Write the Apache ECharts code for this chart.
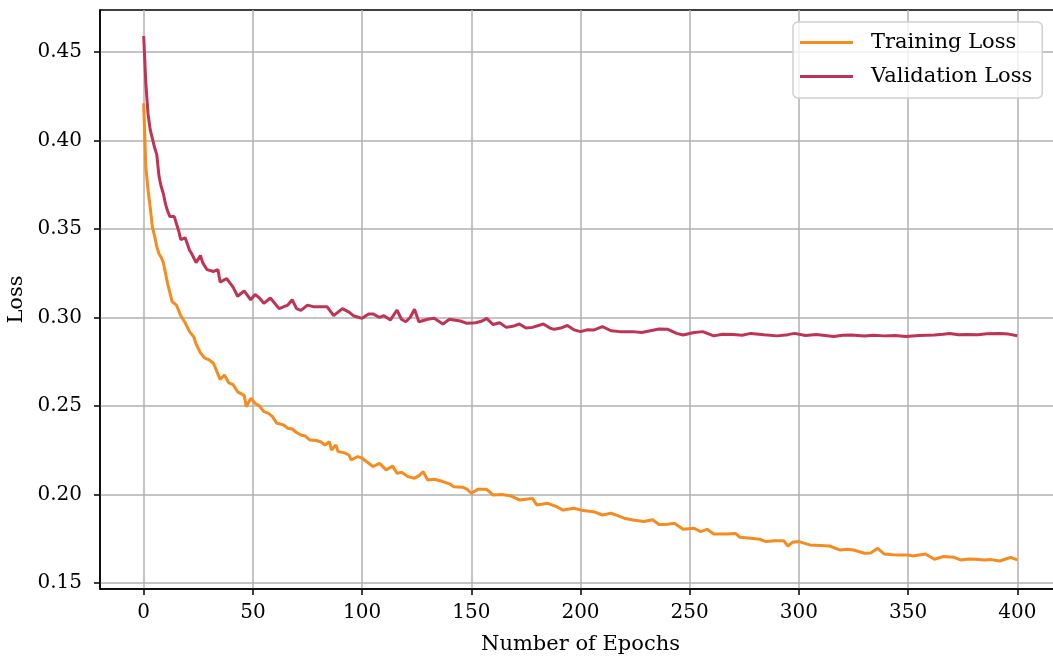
<!DOCTYPE html>
<html>
<head>
<meta charset="utf-8">
<script src="https://cdn.jsdelivr.net/npm/echarts@6/dist/echarts.min.js"></script>
<style>
  html, body { margin: 0; padding: 0; background: #fff; }
  #chart { width: 1053px; height: 660px; }
</style>
</head>
<body>
<div id="chart"></div>
<script>
// tick labels
const xTicks = [0, 50, 100, 150, 200, 250, 300, 350, 400];
const yTicks = [0.15, 0.20, 0.25, 0.30, 0.35, 0.40, 0.45];

// training loss
const trainEpochs = [0, 1, 2, 3, 4, 5, 6, 7, 8, 9, 10, 11, 12, 13, 15, 16, 17, 19, 21, 23,
  24, 26, 28, 30, 32, 34, 35, 37, 39, 41, 43, 46, 47, 49, 51, 53, 55, 57, 59, 61,
  64, 66, 68, 70, 72, 74, 76, 79, 81, 83, 85, 86, 88, 89, 92, 94, 95, 98, 100, 102,
  105, 108, 111, 114, 116, 118, 121, 124, 126, 128, 130, 133, 137, 140, 142, 146, 148, 150, 153, 157,
  160, 164, 168, 172, 176, 178, 180, 185, 189, 192, 197, 201, 206, 210, 214, 217, 220, 224, 229, 233,
  236, 240, 243, 247, 252, 255, 258, 261, 267, 271, 273, 278, 282, 285, 289, 293, 295, 297, 300, 305,
  310, 314, 319, 322, 325, 330, 333, 336, 339, 343, 346, 350, 352, 358, 362, 366, 371, 374, 378, 381,
  385, 388, 392, 395, 397, 400];
const trainLoss = [0.421, 0.385, 0.372, 0.362, 0.351, 0.346, 0.340, 0.336, 0.334, 0.331, 0.325, 0.319, 0.314, 0.309, 0.307, 0.304, 0.301, 0.297, 0.292, 0.289,
  0.285, 0.280, 0.277, 0.276, 0.274, 0.268, 0.265, 0.2675, 0.263, 0.262, 0.258, 0.256, 0.2496, 0.2543, 0.2515, 0.250, 0.2468, 0.246, 0.244, 0.2402,
  0.2393, 0.2374, 0.237, 0.235, 0.2336, 0.233, 0.2308, 0.2305, 0.2298, 0.228, 0.2298, 0.2251, 0.228, 0.2242, 0.2235, 0.2223, 0.2195, 0.2214, 0.2205, 0.2186,
  0.2158, 0.2176, 0.2139, 0.216, 0.212, 0.2125, 0.2101, 0.2092, 0.2105, 0.2129, 0.2082, 0.2086, 0.2073, 0.206, 0.2044, 0.2041, 0.203, 0.2007, 0.2029, 0.2029,
  0.1997, 0.2, 0.1992, 0.1969, 0.1975, 0.1978, 0.1941, 0.195, 0.1931, 0.1912, 0.1922, 0.1909, 0.1903, 0.1884, 0.1894, 0.188, 0.1866, 0.1856, 0.1847, 0.1857,
  0.183, 0.1832, 0.1837, 0.1803, 0.1809, 0.179, 0.1803, 0.1777, 0.1777, 0.178, 0.1758, 0.1753, 0.1747, 0.1734, 0.1738, 0.1739, 0.1709, 0.173, 0.1734, 0.1715,
  0.1712, 0.1709, 0.1686, 0.169, 0.1686, 0.1668, 0.167, 0.1696, 0.1664, 0.166, 0.1658, 0.1658, 0.1653, 0.1664, 0.1634, 0.1649, 0.1645, 0.163, 0.1635, 0.1634,
  0.163, 0.1632, 0.1624, 0.1637, 0.1645, 0.163];

// validation loss
const valEpochs = [0, 1, 2, 3, 4, 5, 6, 7, 8, 9, 10, 11, 12, 14, 16, 17, 19, 21, 22, 24,
  26, 27, 29, 32, 34, 35, 38, 41, 43, 46, 49, 51, 53, 55, 58, 62, 66, 68, 70, 72,
  75, 78, 81, 84, 87, 91, 94, 96, 100, 103, 105, 108, 110, 113, 116, 118, 120, 122, 124, 126,
  130, 133, 137, 140, 142, 145, 148, 152, 155, 157, 160, 163, 166, 169, 172, 175, 178, 183, 186, 188,
  191, 194, 197, 200, 203, 206, 210, 214, 218, 224, 228, 232, 236, 240, 244, 247, 252, 256, 261, 265,
  270, 274, 278, 284, 290, 295, 298, 303, 308, 312, 316, 320, 324, 330, 334, 339, 344, 349, 355, 362,
  366, 369, 373, 377, 382, 386, 392, 396, 400];
const valLoss = [0.459, 0.432, 0.415, 0.406, 0.401, 0.396, 0.392, 0.380, 0.374, 0.370, 0.364, 0.360, 0.357, 0.357, 0.349, 0.344, 0.345, 0.338, 0.336, 0.331,
  0.335, 0.331, 0.327, 0.326, 0.327, 0.320, 0.322, 0.317, 0.312, 0.315, 0.310, 0.313, 0.311, 0.308, 0.311, 0.305, 0.307, 0.310, 0.305, 0.304,
  0.307, 0.306, 0.306, 0.306, 0.301, 0.305, 0.303, 0.301, 0.2995, 0.302, 0.302, 0.300, 0.301, 0.2986, 0.3042, 0.299, 0.2976, 0.300, 0.3046, 0.2976,
  0.299, 0.2995, 0.2963, 0.299, 0.2986, 0.298, 0.2967, 0.297, 0.298, 0.2995, 0.296, 0.297, 0.2944, 0.295, 0.2963, 0.294, 0.2944, 0.2963, 0.294, 0.2933,
  0.294, 0.2955, 0.293, 0.292, 0.293, 0.2929, 0.2948, 0.2925, 0.292, 0.292, 0.2915, 0.2925, 0.2935, 0.2933, 0.291, 0.2901, 0.2915, 0.292, 0.2896, 0.2905,
  0.2904, 0.290, 0.291, 0.2902, 0.2896, 0.2903, 0.291, 0.2898, 0.2904, 0.2898, 0.2892, 0.2899, 0.2901, 0.2895, 0.290, 0.2896, 0.2898, 0.2892, 0.2898, 0.2901,
  0.2905, 0.291, 0.2902, 0.2904, 0.2902, 0.2908, 0.291, 0.2906, 0.2897];

const FONT = 'DejaVu Serif';
const trainData = trainEpochs.map((e, i) => [e, trainLoss[i]]);
const valData = valEpochs.map((e, i) => [e, valLoss[i]]);

const chart = echarts.init(document.getElementById('chart'), null, { renderer: 'canvas' });

const option = {
  animation: false,
  backgroundColor: '#fff',
  textStyle: { fontFamily: FONT },
  grid: {
    left: 100, top: 10, width: 961, height: 579,
    outerBoundsMode: 'none',
    containLabel: false,
    show: true, borderColor: '#000', borderWidth: 1.5, backgroundColor: 'transparent'
  },
  legend: {
    orient: 'vertical',
    left: 793, top: 22,
    padding: [10, 10, 11, 7],
    itemGap: 13,
    itemWidth: 53, itemHeight: 3,
    icon: 'rect',
    backgroundColor: 'rgba(255,255,255,0.8)',
    borderColor: '#d0d0d0', borderWidth: 1.5, borderRadius: 5,
    textStyle: { fontFamily: FONT, fontSize: 21, color: '#000', padding: [0, 0, 0, 13] },
    data: ['Training Loss', 'Validation Loss']
  },
  xAxis: {
    type: 'value',
    min: -20, max: 420,
    name: 'Number of Epochs',
    nameLocation: 'middle',
    nameGap: 45,
    nameTextStyle: { fontFamily: FONT, fontSize: 21, color: '#000' },
    axisLine: { show: true, onZero: false, lineStyle: { color: '#000', width: 1.5 } },
    axisTick: { show: true, length: 6, lineStyle: { color: '#000', width: 1.5 }, customValues: xTicks },
    axisLabel: { fontFamily: FONT, fontSize: 20, color: '#000', margin: 14, customValues: xTicks },
    splitLine: { show: true, lineStyle: { color: '#b0b0b0', width: 1.5 } }
  },
  yAxis: {
    type: 'value',
    min: 0.1466, max: 0.4737,
    name: 'Loss',
    nameLocation: 'middle',
    nameGap: 66,
    nameTextStyle: { fontFamily: FONT, fontSize: 21, color: '#000' },
    axisLine: { show: true, onZero: false, lineStyle: { color: '#000', width: 1.5 } },
    axisTick: { show: true, length: 6, lineStyle: { color: '#000', width: 1.5 }, customValues: yTicks },
    axisLabel: {
      fontFamily: FONT, fontSize: 20, color: '#000', margin: 18,
      customValues: yTicks,
      formatter: v => v.toFixed(2)
    },
    splitLine: { show: true, lineStyle: { color: '#b0b0b0', width: 1.5 } }
  },
  series: [
    {
      name: 'Training Loss',
      type: 'line',
      data: trainData,
      showSymbol: false,
      itemStyle: { color: '#f68b1f' },
      lineStyle: { color: '#f68b1f', width: 3 }
    },
    {
      name: 'Validation Loss',
      type: 'line',
      data: valData,
      showSymbol: false,
      itemStyle: { color: '#bf3454' },
      lineStyle: { color: '#bf3454', width: 3 }
    }
  ]
};

chart.setOption(option);
</script>
</body>
</html>
